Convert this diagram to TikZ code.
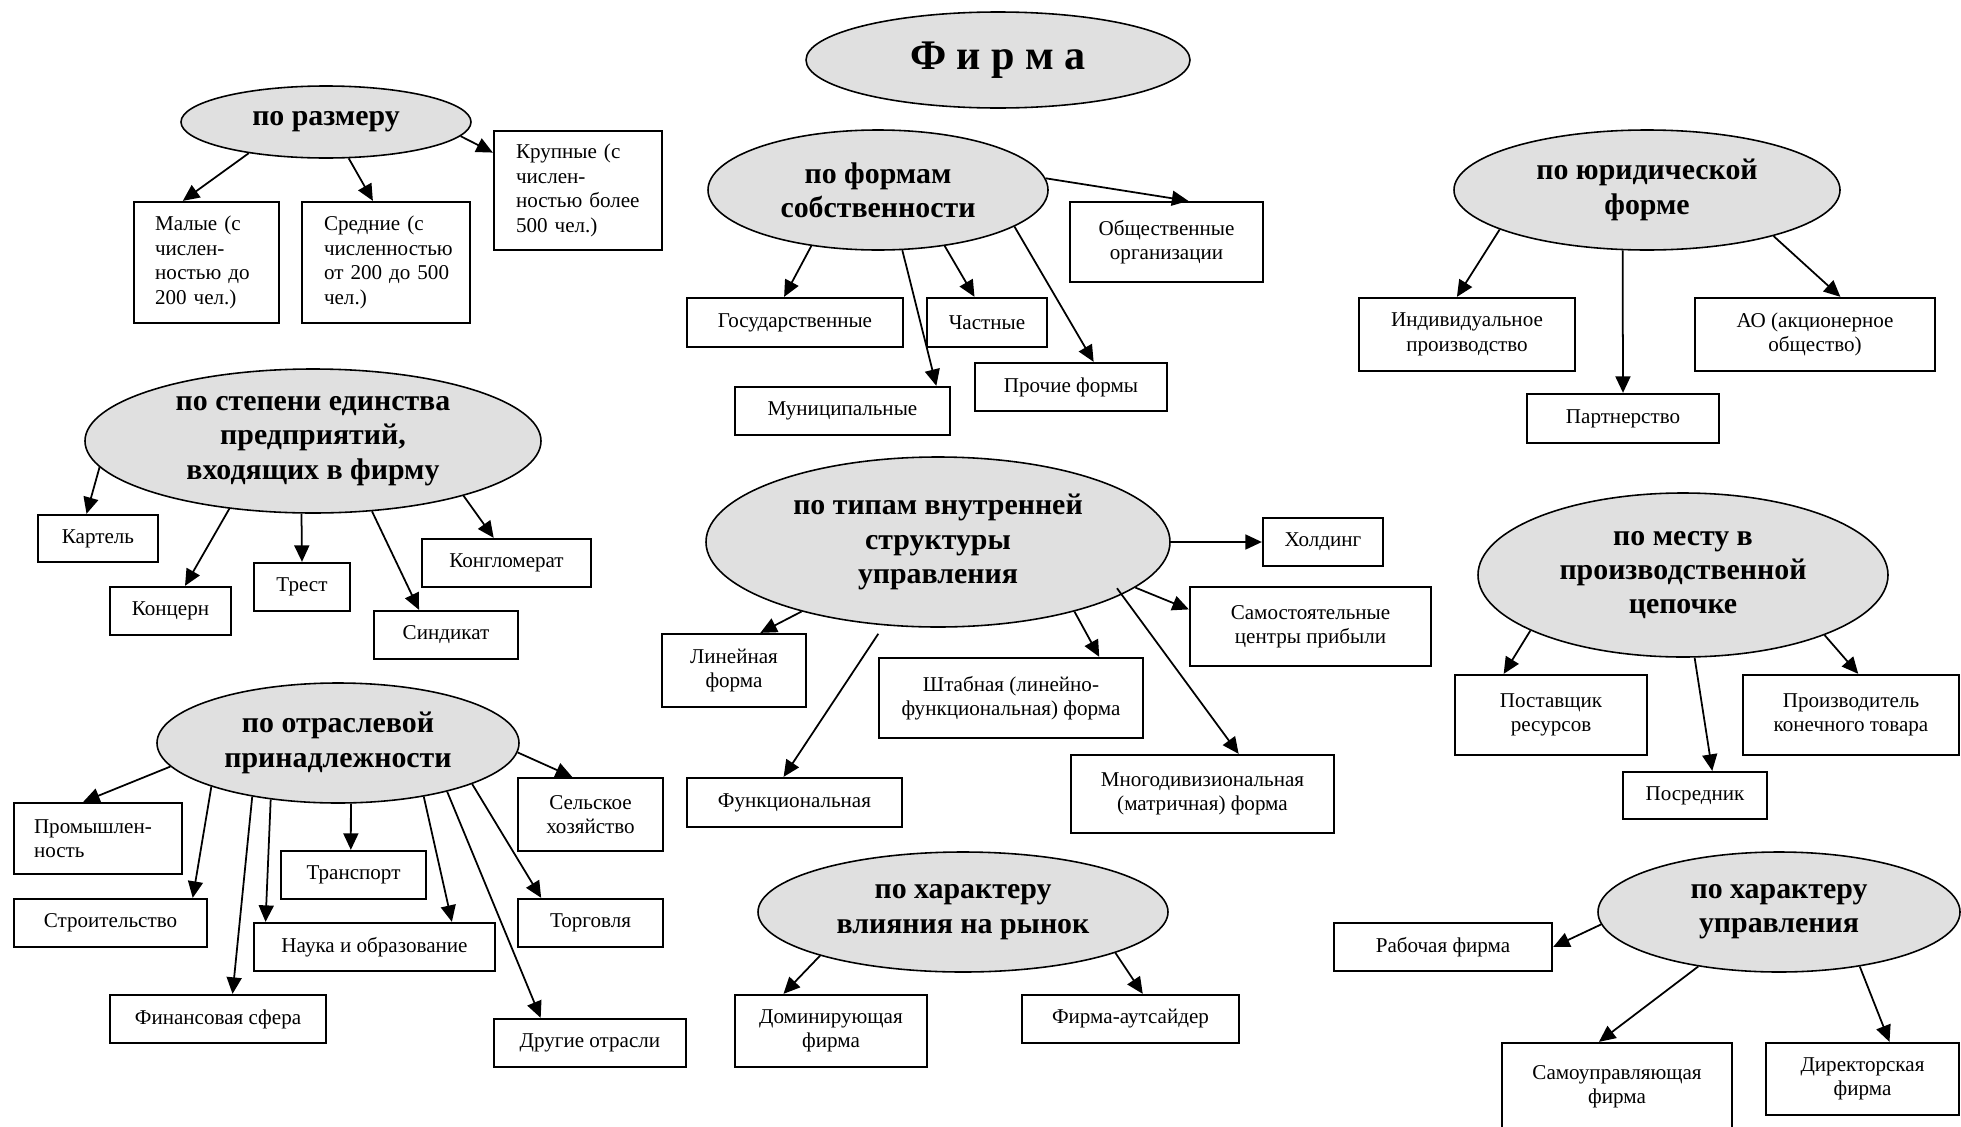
\documentclass[tikz,border=0pt]{standalone}
\usepackage{fontspec}
\setmainfont{Liberation Serif}
\usetikzlibrary{shapes.geometric,arrows.meta}
\newcommand{\itemfont}{\fontsize{12}{13.9}\selectfont}
\newcommand{\critfont}{\fontsize{17}{19.5}\selectfont\bfseries}
\newcommand{\firmfont}{\fontsize{24}{26}\selectfont\bfseries}
\tikzset{
  >={Triangle[length=3.3mm,width=3mm]},
  crit/.style={ellipse,draw=black,line width=0.9pt,fill=black!12,
    inner sep=0pt,font=\critfont,align=center},
  item/.style={rectangle,draw=black,line width=1.3pt,inner sep=0pt,
    font=\itemfont,align=center},
  litem/.style={item,align=left,text width=#1},
  sz/.style 2 args={minimum width=#1*0.02cm,minimum height=#2*0.02cm},
  arr/.style={->,line width=1pt},
}
\begin{document}
\begin{tikzpicture}[x=0.02cm,y=-0.02cm]
  \useasboundingbox (0,0) rectangle (1961,1126);
  % criteria
  \node[crit,sz={384}{96},font=\firmfont] (firma) at (998,60) {Ф и р м а};
  \node[crit,sz={290}{72}] (razm) at (326,122) {по размеру};
  \node[crit,sz={340}{120}] (sobst) at (878,190) {по формам\\собственности};
  \node[crit,sz={386}{120}] (jur) at (1647,190) {по юридической\\форме};
  \node[crit,sz={456}{144}] (steps) at (313,441)
    {по степени единства\\предприятий,\\входящих в фирму};
  \node[crit,sz={464}{170}] (tip) at (938,542)
    {по типам внутренней\\структуры\\управления};
  \node[crit,sz={410}{164}] (mesto) at (1683,575)
    {по месту в\\производственной\\цепочке};
  \node[crit,sz={362}{120}] (otr) at (338,743) {по отраслевой\\принадлежности};
  \node[crit,sz={410}{120}] (rynok) at (963,912) {по характеру\\влияния на рынок};
  \node[crit,sz={362}{120}] (upr) at (1779,912) {по характеру\\управления};

  % size
  \node[litem=2.06cm,sz={145}{121}] (mal) at (206.5,262.5)
    {Малые (с\\числен-\\ностью до\\200 чел.)};
  \node[litem=2.48cm,sz={168}{121}] (sred) at (386,262.5)
    {Средние (с\\численностью\\\mbox{от 200 до 500}\\чел.)};
  \node[litem=2.48cm,sz={168}{119}] (krup) at (578,190.5)
    {Крупные (с\\числен-\\\mbox{ностью более}\\500 чел.)};
  % ownership
  \node[item,sz={216}{49}] (gos) at (795,322.5) {Государственные};
  \node[item,sz={120}{49}] (chast) at (987,322.5) {Частные};
  \node[item,sz={215}{48}] (mun) at (842.5,411) {Муниципальные};
  \node[item,sz={192}{48}] (proch) at (1071,387) {Прочие формы};
  \node[item,sz={193}{80}] (obsch) at (1166.5,242) {Общественные\\организации};
  % legal form
  \node[item,sz={216}{73}] (ind) at (1467,334.5) {Индивидуальное\\производство};
  \node[item,sz={240}{73}] (ao) at (1815,334.5) {АО (акционерное\\общество)};
  \node[item,sz={192}{49}] (part) at (1623,418.5) {Партнерство};
  % unity
  \node[item,sz={120}{47}] (kart) at (98,538.5) {Картель};
  \node[item,sz={121}{48}] (konc) at (170.5,611) {Концерн};
  \node[item,sz={96}{48}] (trest) at (302,587) {Трест};
  \node[item,sz={144}{48}] (sind) at (446,635) {Синдикат};
  \node[item,sz={169}{48}] (kongl) at (506.5,563) {Конгломерат};
  % structure
  \node[item,sz={120}{48}] (hold) at (1323,542) {Холдинг};
  \node[item,sz={241}{79}] (samost) at (1310.5,626.5)
    {Самостоятельные\\центры прибыли};
  \node[item,sz={144}{73}] (lin) at (734,670.5) {Линейная\\форма};
  \node[item,sz={264}{80}] (shtab) at (1011,698)
    {Штабная (линейно-\\функциональная) форма};
  \node[item,sz={215}{49}] (funk) at (794.5,802.5) {Функциональная};
  \node[item,sz={263}{78}] (mnogo) at (1202.5,794)
    {Многодивизиональная\\(матричная) форма};
  % chain
  \node[item,sz={192}{80}] (post) at (1551,715) {Поставщик\\ресурсов};
  \node[item,sz={216}{80}] (proizv) at (1851,715) {Производитель\\конечного товара};
  \node[item,sz={144}{47}] (posr) at (1695,795.5) {Посредник};
  % branch
  \node[litem=2.56cm,sz={168}{71}] (prom) at (98,838.5) {Промышлен-\\ность};
  \node[item,sz={193}{48}] (stroi) at (110.5,923) {Строительство};
  \node[item,sz={216}{48}] (fin) at (218,1019) {Финансовая сфера};
  \node[item,sz={145}{48}] (trans) at (353.5,875) {Транспорт};
  \node[item,sz={241}{48}] (nauka) at (374.5,947) {Наука и образование};
  \node[item,sz={145}{73}] (selsk) at (590.5,814.5) {Сельское\\хозяйство};
  \node[item,sz={145}{48}] (torg) at (590.5,923) {Торговля};
  \node[item,sz={192}{48}] (drug) at (590,1043) {Другие отрасли};
  % market
  \node[item,sz={192}{72}] (dom) at (831,1031) {Доминирующая\\фирма};
  \node[item,sz={217}{48}] (auts) at (1130.5,1019) {Фирма-аутсайдер};
  % management
  \node[item,sz={218}{48}] (rab) at (1443,947) {Рабочая фирма};
  \node[item,sz={230}{87}] (samou) at (1617,1086.5) {Самоуправляющая\\фирма};
  \node[item,sz={193}{72}] (dir) at (1862.5,1079) {Директорская\\фирма};

  \draw[arr] (razm.202) -- (mal.111);
  \draw[arr] (razm.302) -- (sred.102);
  \draw[arr] (razm.354) -- (krup.156.5);
  \draw[arr] (sobst.220.3) -- (gos.113);
  \draw[arr] (sobst.292.3) -- (mun.15.9);
  \draw[arr] (sobst.320.1) -- (chast.116.1);
  \draw[arr] (sobst.345.6) -- (proch.48.8);
  \draw[arr] (sobst.4.1) -- (obsch.62.9);
  \draw[arr] (jur.195.8) -- (ind.105.3);
  \draw[arr] (jur.248.2) -- (part.north);
  \draw[arr] (jur.340) -- (ao.56.7);
  \draw[arr] (steps.187.8) -- (kart.115.1);
  \draw[arr] (steps.219.4) -- (konc.60.6);
  \draw[arr] (steps.261.3) -- (trest.north);
  \draw[arr] (steps.310) -- (sind.137.3);
  \draw[arr] (steps.340.5) -- (kongl.117.5);
  \draw[arr] (otr.188.2) -- (prom.112.9);
  \draw[arr] (otr.199.5) -- (stroi.17.6);
  \draw[arr] (otr.212.4) -- (fin.60.8);
  \draw[arr] (otr.220.5) -- (nauka.167.1);
  \draw[arr] (otr.282.2) -- (trans.96);
  \draw[arr] (otr.328.8) -- (nauka.18.8);
  \draw[arr] (otr.336.2) -- (drug.153.4);
  \draw[arr] (otr.343.6) -- (torg.153.7);
  \draw[arr] (otr.357.2) -- (selsk.116.9);
  \draw[arr] (tip.east) -- (hold.west);
  \draw[arr] (tip.347.6) -- (samost.172.2);
  \draw[arr] (tip.207.6) -- (lin.55.6);
  \draw[arr,shorten <=2mm] (tip.237.3) -- (funk.113.2);
  \draw[arr] (tip.333.1) -- (shtab.25.7);
  \draw[arr,shorten <=-1.6mm] (tip.344) -- (mnogo.48.5);
  \draw[arr] (mesto.200.4) -- (post.139.6);
  \draw[arr] (mesto.278.3) -- (posr.55.8);
  \draw[arr] (mesto.337) -- (proizv.80.1);
  \draw[arr] (rynok.197.6) -- (dom.142);
  \draw[arr] (rynok.345.9) -- (auts.64.4);
  \draw[arr] (upr.184.1) -- (rab.east);
  \draw[arr] (upr.214.9) -- (samou.112.8);
  \draw[arr] (upr.326.1) -- (dir.54.7);
\end{tikzpicture}
\end{document}
